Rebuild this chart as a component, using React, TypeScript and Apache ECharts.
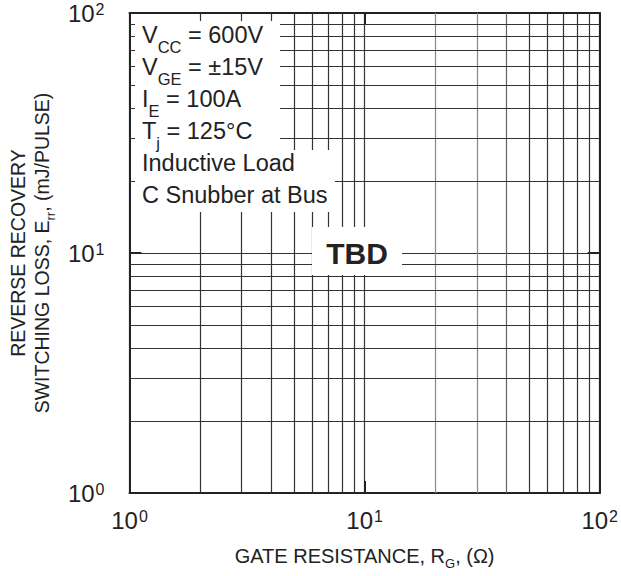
import React, { useEffect, useRef } from 'react';
import * as echarts from 'echarts';

// ---- data ----
const xRange = [1, 100];
const yRange = [1, 100];
const minorGridX = [2, 3, 4, 5, 6, 7, 8, 9, 20, 30, 40, 50, 60, 70, 80, 90];
const minorGridY = [2, 3, 4, 5, 6, 7, 8, 9, 20, 30, 40, 50, 60, 70, 80, 90];
const lightGridX = [20, 30, 40];
const tickBase = '10';
const xTitle = ['GATE RESISTANCE, R', 'G', ', (Ω)'];
const yTitleLine1 = 'REVERSE RECOVERY';
const yTitleLine2 = ['SWITCHING LOSS, E', 'rr', ', (mJ/PULSE)'];
const conditions: string[][][] = [
  [['V', ''], ['CC', 's'], [' = 600V', '']],
  [['V', ''], ['GE', 's'], [' = ±15V', '']],
  [['I', ''], ['E', 's'], [' = 100A', '']],
  [['T', ''], ['j', 's'], [' = 125°C', '']],
  [['Inductive Load', '']],
  [['C Snubber at Bus', '']],
];
const placeholder = 'TBD';

const FONT = '"Liberation Sans", Arial, Helvetica, sans-serif';
const INK = '#222';

export default function App() {
  const ref = useRef<HTMLDivElement>(null);
  useEffect(() => {
    if (!ref.current) return;
    const chart = echarts.init(ref.current, undefined, { renderer: 'svg' });

    const tickRich = {
      b: { fontSize: 24, lineHeight: 24, fontFamily: FONT, color: INK, verticalAlign: 'top' },
      p: { fontSize: 16, lineHeight: 16, fontFamily: FONT, color: INK, verticalAlign: 'top', padding: [0, 0, 0, 1] },
    };
    const tickFmt = (v: number) => `{b|${tickBase}}{p|${Math.round(Math.log10(v))}}`;

    const condTexts = conditions.map((line, i) => ({
      type: 'text',
      x: 142,
      y: 43 + i * 32 - 20,
      z: 110,
      silent: true,
      style: {
        text: line.map(([t, k]) => `{${k === 's' ? 's' : 'n'}|${t}}`).join(''),
        verticalAlign: 'top',
        align: 'left',
        rich: {
          n: { fontSize: 23.5, lineHeight: 23.5, fontFamily: FONT, fill: INK, verticalAlign: 'top' },
          s: { fontSize: 16.5, lineHeight: 16.5, fontFamily: FONT, fill: INK, verticalAlign: 'top', padding: [15, 0, 0, 0] },
        },
      },
    }));

    const axisCommon = {
      type: 'log',
      logBase: 10,
      axisLine: { show: true, lineStyle: { color: INK, width: 2 } },
      axisTick: { show: true, inside: true, length: 12, lineStyle: { color: INK, width: 2 } },
    };

    const option: any = {
      animation: false,
      backgroundColor: '#fff',
      grid: { left: 120, top: 13, width: 480, height: 480, containLabel: false },
      xAxis: [
        {
          ...axisCommon,
          min: xRange[0],
          max: xRange[1],
          position: 'bottom',
          splitLine: { show: true, lineStyle: { color: '#333', width: 1.2 } },
          axisLabel: { show: true, margin: 15, formatter: tickFmt, rich: tickRich },
          name: `{n|${xTitle[0]}}{s|${xTitle[1]}}{n|${xTitle[2]}}`,
          nameLocation: 'middle',
          nameGap: 53,
          nameTextStyle: {
            rich: {
              n: { fontSize: 20, lineHeight: 20, fontFamily: FONT, color: INK, verticalAlign: 'top' },
              s: { fontSize: 13, lineHeight: 13, fontFamily: FONT, color: INK, verticalAlign: 'top', padding: [11, 0, 0, 0] },
            },
          },
        },
        {
          ...axisCommon,
          min: xRange[0],
          max: xRange[1],
          position: 'top',
          splitLine: { show: false },
          axisLabel: { show: false },
        },
      ],
      yAxis: [
        {
          ...axisCommon,
          min: yRange[0],
          max: yRange[1],
          position: 'left',
          splitLine: { show: true, lineStyle: { color: '#333', width: 1.2 } },
          axisLabel: { show: true, margin: 25, formatter: tickFmt, rich: tickRich },
          name: `{n|${yTitleLine1}}\n{n|${yTitleLine2[0]}}{s|${yTitleLine2[1]}}{n|${yTitleLine2[2]}}`,
          nameLocation: 'middle',
          nameGap: 68,
          nameTextStyle: {
            align: 'center',
            rich: {
              n: { fontSize: 19.5, lineHeight: 24, fontFamily: FONT, color: INK, verticalAlign: 'top', align: 'center' },
              s: { fontSize: 13, lineHeight: 12, fontFamily: FONT, color: INK, verticalAlign: 'top', padding: [12, 0, 0, 0] },
            },
          },
        },
        {
          ...axisCommon,
          min: yRange[0],
          max: yRange[1],
          position: 'right',
          splitLine: { show: false },
          axisLabel: { show: false },
        },
      ],
      series: [
        {
          type: 'line',
          xAxisIndex: 0,
          yAxisIndex: 0,
          data: [],
          silent: true,
          markLine: {
            silent: true,
            symbol: ['none', 'none'],
            label: { show: false },
            emphasis: { disabled: true },
            lineStyle: { type: 'solid', color: '#333', width: 1.2 },
            data: [
              ...minorGridX.map((v) => ({
                xAxis: v,
                lineStyle: { type: 'solid', width: 1.2, color: lightGridX.includes(v) ? (v === 40 ? '#666' : '#8a8a8a') : '#333' },
              })),
              ...minorGridY.map((v) => ({ yAxis: v, lineStyle: { type: 'solid', width: 1.2, color: '#333' } })),
            ],
          },
        },
      ],
      graphic: [
        { type: 'rect', z: 100, silent: true, shape: { x: 135, y: 21, width: 145, height: 129 }, style: { fill: '#fff' } },
        { type: 'rect', z: 100, silent: true, shape: { x: 135, y: 150, width: 200, height: 62 }, style: { fill: '#fff' } },
        { type: 'rect', z: 100, silent: true, shape: { x: 312, y: 227, width: 90, height: 48 }, style: { fill: '#fff' } },
        ...condTexts,
        {
          type: 'text',
          x: 357,
          y: 253,
          z: 110,
          silent: true,
          style: {
            text: placeholder,
            fontSize: 30,
            fontWeight: 'bold',
            fontFamily: FONT,
            fill: INK,
            align: 'center',
            verticalAlign: 'middle',
          },
        },
      ],
    };

    chart.setOption(option);
    return () => chart.dispose();
  }, []);

  return (
    <div
      ref={ref}
      style={{ position: 'fixed', left: 0, top: 0, width: '621px', height: '576px', background: '#fff' }}
    />
  );
}
